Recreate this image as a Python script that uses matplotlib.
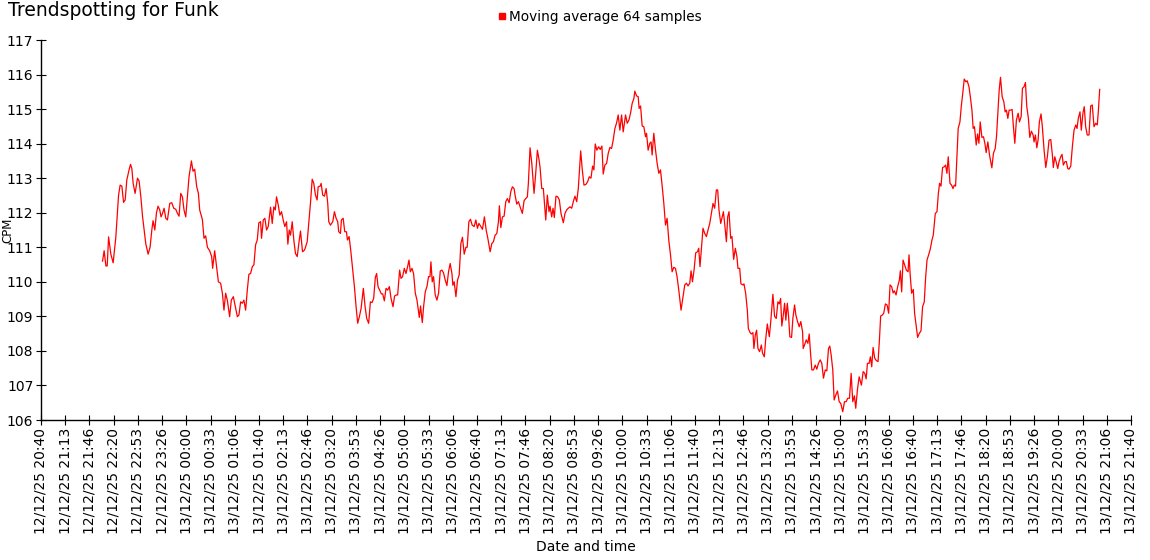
import matplotlib
matplotlib.use("Agg")
import matplotlib.pyplot as plt
import matplotlib.dates as mdates
from matplotlib.lines import Line2D
import pandas as pd
import numpy as np

title = "Trendspotting for Funk"
series_name = "Moving average 64 samples"
x_label = "Date and time"
y_label = "CPM"
start = pd.Timestamp("2025-12-12 20:40")
end = pd.Timestamp("2025-12-13 21:40")

# minutes since 12/12/25 20:40
minutes = [
 84.7, 86.9, 89.3, 91.1, 93.0, 96.1, 99.3, 103.0, 106.7, 108.9, 111.3, 113.6, 115.8, 118.1, 121.3, 123.2,
 125.0, 126.8, 129.5, 132.8, 135.0, 137.4, 139.7, 141.9, 144.2, 147.4, 150.1, 152.5, 154.2, 156.6, 158.9,
 161.1, 163.4, 165.2, 167.2, 169.4, 171.7, 174.0, 177.2, 179.9, 182.7, 185.4, 187.8, 190.0, 192.3, 194.6,
 196.8, 199.2, 201.5, 203.7, 207.0, 209.2, 211.5, 214.3, 216.6, 218.4,
 222.1, 224.3, 226.6, 229.0, 232.1, 234.9, 236.2, 239.0, 241.3, 244.1, 247.2, 249.6, 251.8, 254.1, 256.4,
 259.6, 261.9, 264.7, 267.4, 270.2, 272.4, 274.7, 277.0, 279.2, 281.6, 283.9, 286.1, 288.4, 290.8, 293.0,
 295.3, 297.6, 299.8, 302.2, 303.5, 305.9, 308.1, 310.4, 312.7, 315.9, 318.2, 320.4, 322.4, 324.1, 326.5,
 328.7, 331.0, 333.3, 335.5, 337.9, 339.7, 341.6, 343.4, 345.7, 347.9, 350.2, 352.6, 354.8, 357.1, 359.9, 362.6,
 364.0, 366.3, 368.5, 370.8, 373.2, 375.4, 377.7, 380.0, 381.4, 384.2, 385.5, 387.7, 390.1, 392.4, 394.6,
 396.0, 398.3, 401.5, 403.8, 406.1, 408.3, 409.7, 412.1, 413.4, 415.8, 418.0, 420.3, 421.7, 424.0, 426.2,
 428.5, 431.3, 433.6, 435.8, 438.1, 440.5, 443.6, 446.0, 448.2, 450.9, 453.3, 455.6, 457.8, 460.1, 461.9,
 463.8, 466.0, 468.4, 470.2, 472.5, 474.8, 477.0, 479.4, 481.7, 484.4, 486.6, 489.0, 490.8, 493.5, 495.4,
 497.6, 500.0, 502.3, 504.5, 506.4,
 508.2, 510.5, 512.7, 515.1, 517.4, 520.6, 522.3, 524.7, 526.5, 528.8, 531.1, 533.3, 535.3, 536.6, 538.4,
 540.2, 542.5, 544.9, 547.1, 549.4, 551.7, 553.9, 556.3, 558.6, 560.8, 563.1, 565.5, 566.8, 568.6, 571.0,
 573.2, 575.5, 577.8, 580.0, 582.4, 584.7, 586.5, 588.8, 591.0, 593.4, 596.1, 598.4, 600.6, 602.6, 604.8,
 607.5, 610.2, 612.6, 614.9, 618.1, 620.4, 622.6, 624.9, 627.3, 629.5, 630.8, 632.8, 635.0, 637.3, 639.6,
 641.8, 644.2, 646.5, 648.7, 651.0,
 652.4, 654.7, 657.0, 659.3, 662.4, 664.8, 667.1, 669.3, 670.7, 673.0, 675.4, 678.5, 680.8, 683.1, 685.4,
 686.8, 689.1, 691.3, 694.6, 696.8, 699.1, 700.5, 702.8, 704.6, 706.4, 708.7, 711.1, 713.3, 715.6, 718.8,
 721.1, 723.4, 725.6, 728.0, 730.3, 732.5, 734.8, 737.2, 739.4, 742.7, 744.9, 747.2, 749.9, 752.3, 754.5,
 756.8, 759.1, 760.9, 762.7, 765.0, 767.4, 769.6, 771.9, 773.7, 776.0, 778.4, 780.6, 782.9, 785.2, 787.4,
 789.8, 792.1, 794.3,
 796.6, 799.0, 801.2, 804.4, 806.7, 809.0, 811.3, 813.5, 815.9, 817.2, 819.6, 821.8, 823.1, 825.1, 827.3,
 829.6, 831.9, 833.3, 835.5, 837.8, 839.6, 841.0, 843.3, 845.7, 847.9, 850.2, 852.5, 854.7, 857.1, 859.4,
 861.6, 863.9, 866.3, 868.5, 870.8, 873.1, 875.3, 877.7, 880.8, 883.6, 885.9, 888.2, 890.4, 892.8, 894.6,
 896.5, 898.7, 901.0, 903.4, 905.1, 906.9, 909.3, 911.0, 913.4, 915.7, 917.9, 920.3, 922.6, 924.8, 927.1,
 929.4, 931.2, 933.0, 935.4, 937.1, 939.1,
 940.8, 943.2, 945.0, 946.8, 949.1, 950.9, 953.2, 955.5, 957.7, 959.1, 961.5, 963.2, 966.0, 967.4, 969.7,
 972.0, 973.4, 975.6, 977.5, 979.7, 981.1, 983.0, 984.8, 986.6, 988.9, 991.3, 993.0, 995.4, 997.2, 999.5,
 1002.3, 1004.4, 1007.2, 1009.5, 1011.8, 1014.1, 1016.0, 1017.8, 1019.5, 1021.5, 1023.3, 1025.0, 1027.0,
 1028.8, 1030.5, 1032.9, 1034.7, 1037.0, 1038.8, 1041.1, 1043.4, 1045.6, 1048.0, 1048.9, 1050.7, 1053.1,
 1055.3, 1057.2, 1059.0, 1060.8, 1063.1, 1065.4, 1067.6, 1069.9, 1072.3, 1074.5, 1076.8, 1079.2, 1081.4, 1083.7,
 1085.5, 1087.4, 1089.6, 1091.5, 1093.7, 1096.1, 1098.4, 1100.6, 1103.3, 1105.7, 1108.0, 1110.2, 1112.6,
 1114.9, 1117.1, 1119.4, 1121.2, 1123.5, 1125.9, 1129.0, 1131.4, 1133.6, 1135.5, 1137.3, 1139.6, 1141.4,
 1143.2, 1145.1, 1147.3, 1149.6, 1151.9, 1153.8, 1155.5, 1157.9, 1159.7, 1162.0, 1164.3, 1166.5, 1168.4,
 1170.6, 1172.6, 1174.3, 1176.7, 1178.9, 1181.2, 1182.6, 1184.4, 1186.3, 1188.5, 1190.8, 1193.2, 1194.5,
 1196.3, 1198.1, 1200.4, 1202.2, 1204.2, 1206.4, 1208.7, 1211.0, 1213.2, 1215.5, 1217.3, 1219.3, 1221.5,
 1223.8, 1226.1, 1227.9,
 1230.7, 1233.0, 1234.9, 1236.6, 1238.5, 1240.7, 1243.1, 1244.8, 1246.7, 1248.5, 1250.9, 1253.1, 1255.0,
 1256.8, 1258.6, 1260.5, 1262.2, 1264.6, 1266.4, 1268.7, 1270.5, 1272.8, 1274.6, 1277.0, 1279.2, 1281.1,
 1282.8, 1284.6, 1287.0, 1288.8, 1290.7, 1292.5, 1294.8, 1297.0, 1298.9, 1300.7, 1303.0, 1305.3, 1308.5,
 1310.7, 1313.1, 1314.9, 1316.8, 1318.6, 1320.4, 1322.7, 1325.0, 1326.8, 1328.6, 1330.5, 1332.3, 1334.6,
 1336.4, 1338.2, 1340.1, 1342.3, 1344.7, 1346.5, 1348.8, 1350.6, 1352.9, 1354.7, 1356.6, 1358.8, 1360.7,
 1362.9, 1365.3, 1366.6, 1368.4, 1370.4, 1372.1,
 1373.9, 1376.2, 1378.0, 1380.4, 1382.7, 1384.9, 1387.2, 1389.6, 1391.8, 1393.1, 1395.1, 1396.9, 1399.2,
 1401.0, 1403.3, 1405.1, 1406.9, 1409.2, 1411.0, 1413.0, 1414.7, 1417.1, 1419.3, 1421.6, 1424.0, 1425.7,
 1427.5, 1429.8, 1431.6, 1433.9, 1435.7, 1437.6, 1439.8, 1442.2, 1444.5, 1446.7, 1449.1, 1451.4, 1453.6,
 1455.0, 1456.9,
]

cpm = [
 110.6, 110.9, 110.46, 110.46, 111.3, 110.8, 110.55, 111.3, 112.5, 112.8, 112.77, 112.3, 112.37, 112.95, 113.25, 113.4,
 113.28, 112.85, 112.56, 113.0, 112.92, 112.46, 111.9, 111.5, 111.1, 110.8, 111.0, 111.5, 111.77, 111.5, 112.0,
 112.19, 112.08, 111.88, 111.98, 112.13, 111.84, 111.79, 112.27, 112.29, 112.13, 112.1, 111.98, 111.9, 112.56, 112.46,
 112.08, 111.88, 112.46, 113.04, 113.5, 113.2, 113.26, 112.75, 112.56, 112.08,
 111.8, 111.26, 111.33, 111.0, 110.9, 110.73, 110.39, 110.9, 110.49, 110.0, 109.96, 109.67, 109.18, 109.67, 109.47,
 108.99, 109.47, 109.57, 109.28, 108.99, 109.04, 109.42, 109.38, 109.47, 109.18, 109.76, 110.22, 110.24, 110.44, 110.49,
 111.07, 111.21, 111.71, 111.74, 111.26, 111.79, 111.84, 111.5, 111.6, 112.16, 111.69, 112.17, 112.08, 112.46, 112.22,
 111.93, 112.03, 111.79, 111.6, 111.74, 111.09, 111.5, 111.35, 111.74, 111.21, 110.82, 110.73, 111.11, 111.47, 110.87, 110.92,
 111.0, 111.16, 111.69, 112.27, 112.97, 112.85, 112.51, 112.37, 112.75, 112.77, 112.85, 112.51, 112.48, 112.7, 112.27,
 111.74, 111.64, 111.74, 112.03, 111.84, 111.74, 111.45, 111.4, 111.79, 111.84, 111.45, 111.45, 111.21, 111.31, 110.92,
 110.44, 109.86, 109.28, 108.8, 108.99, 109.23, 109.81, 109.28, 108.94, 108.8, 109.42, 109.4, 109.52, 110.13, 110.24,
 109.86, 109.76, 109.65, 109.65, 109.45, 109.81, 109.76, 109.86, 109.52, 109.28, 109.59, 109.62, 109.62, 110.34, 110.1,
 110.15, 110.39, 110.24, 110.44, 110.63,
 110.29, 110.39, 110.24, 109.67, 109.47, 108.97, 109.3, 108.82, 109.28, 109.71, 109.86, 110.15, 110.15, 110.58, 110.0,
 110.15, 109.62, 109.47, 109.67, 110.31, 110.34, 110.26, 110.05, 109.89, 110.29, 110.53, 110.24, 109.9, 110.0, 109.57,
 110.05, 110.2, 111.11, 111.29, 110.8, 111.0, 111.0, 111.74, 111.81, 111.64, 111.6, 111.79, 111.55, 111.69, 111.62,
 111.52, 111.88, 111.5, 111.26, 110.87, 111.11, 111.16, 111.35, 111.4, 111.74, 112.2, 111.57, 111.88, 111.9, 112.32,
 112.41, 112.29, 112.61, 112.75, 112.7,
 112.51, 112.25, 112.32, 112.17, 111.98, 112.35, 112.41, 112.46, 112.85, 113.88, 113.43, 112.56, 113.14, 113.81, 113.53,
 113.31, 112.7, 112.7, 111.79, 112.51, 112.03, 112.19, 111.88, 112.13, 111.86, 112.48, 112.46, 112.37, 111.98, 111.71,
 111.98, 112.08, 112.13, 112.17, 112.13, 112.32, 112.48, 112.32, 112.7, 113.79, 113.24, 112.8, 112.82, 112.9, 113.04,
 113.0, 113.35, 113.24, 113.99, 113.81, 113.91, 113.83, 113.93, 113.12, 113.38, 113.43, 113.72, 113.89, 113.86, 114.1,
 114.44, 114.6, 114.83,
 114.39, 114.83, 114.34, 114.83, 114.59, 114.68, 114.88, 115.16, 115.31, 115.52, 115.38, 115.36, 115.02, 115.09, 114.51,
 114.49, 114.2, 114.3, 113.81, 114.01, 114.05, 113.67, 114.3, 113.81, 113.43, 113.14, 113.24, 112.8, 112.27, 111.64,
 111.84, 111.21, 110.78, 110.29, 110.42, 110.39, 110.15, 109.76, 109.18, 109.57, 109.91, 109.96, 109.88, 109.96, 110.32,
 110.0, 110.34, 110.84, 110.87, 110.97, 110.44, 111.11, 111.55, 111.4, 111.31, 111.5, 111.69, 111.98, 112.27, 112.13,
 112.66, 112.66, 112.08, 111.69, 111.84, 112.03,
 111.69, 111.16, 111.88, 112.03, 111.26, 111.31, 110.65, 110.97, 110.73, 110.39, 110.39, 109.94, 109.91, 109.94, 109.67,
 109.18, 108.65, 108.54, 108.49, 108.53, 108.07, 108.46, 108.6, 108.07, 107.98, 108.17, 107.93, 107.83, 108.32, 108.78,
 108.41, 108.89, 109.64, 109.0, 108.94, 109.42, 109.36, 109.52, 108.72, 109.04, 109.38, 108.89, 109.38,
 108.99, 108.41, 108.39, 108.94, 109.33, 109.04, 108.85, 108.7, 108.85, 108.56, 108.07, 108.17, 108.32,
 108.22, 108.49, 107.93, 107.45, 107.45, 107.59, 107.47, 107.64, 107.74, 107.64, 107.21, 107.45, 107.42, 108.07,
 108.14, 107.88, 107.45, 106.58, 106.72, 106.84, 106.53, 106.48, 106.24, 106.53, 106.53, 106.63, 106.63,
 107.35, 106.53, 106.7, 106.34, 106.87, 107.25, 107.01, 107.4, 107.35, 107.19, 107.64, 107.64, 107.83,
 107.54, 108.1, 107.79, 107.72, 107.69, 108.32, 109.01, 109.04, 109.09, 109.36, 109.33, 109.09, 109.91,
 109.86, 109.68, 109.74, 109.62, 109.86, 110.05, 110.32, 109.71, 110.63, 110.49, 110.34, 110.29, 110.78,
 110.15, 109.67, 109.78, 109.09, 108.75, 108.39, 108.51, 108.58, 109.28, 109.42, 110.1, 110.63, 110.78,
 110.95, 111.21, 111.35,
 111.98, 112.03, 112.56, 112.85, 112.77, 113.31, 113.33, 113.38, 113.14, 113.62, 112.85, 112.8, 112.7,
 112.8, 112.77, 113.62, 114.44, 114.63, 115.07, 115.5, 115.87, 115.79, 115.82, 115.65, 115.31, 114.97,
 114.44, 114.49, 113.96, 114.28, 114.01, 114.63, 114.18, 114.2, 114.01, 113.74, 114.05, 113.67, 113.3,
 113.72, 113.86, 114.2, 114.88, 115.55, 115.92, 115.36, 115.21, 114.92, 114.97, 114.73, 114.97, 114.97,
 114.99, 114.49, 114.01, 114.68, 114.88, 114.63, 114.78, 115.6, 115.65, 115.77, 115.07, 114.73, 114.18,
 114.36, 114.25, 114.05, 114.25, 113.88, 114.1,
 114.63, 114.86, 114.49, 113.81, 113.31, 113.62, 114.1, 114.12, 113.67, 113.31, 113.62, 113.48, 113.28,
 113.48, 113.62, 113.69, 113.38, 113.48, 113.48, 113.28, 113.26, 113.35, 113.91, 114.39, 114.54, 114.44,
 114.73, 114.92, 114.39, 114.89, 115.07, 114.49, 114.25, 114.25, 115.09, 115.12, 114.49, 114.59, 114.54,
 114.92, 115.57,
]

y_min, y_max = 106, 117
tick_step_seconds = 2000

times = start + pd.to_timedelta(minutes, unit="min")

W, H = 1150, 560
fig = plt.figure(figsize=(W / 100, H / 100), dpi=100)
fig.patch.set_facecolor("white")
ax = fig.add_axes([41 / W, 1 - 420 / H, (1131 - 41) / W, (420 - 40) / H])

ax.plot(times, cpm, color="#ff0000", linewidth=0.9)

ax.set_xlim(start, end)
ax.set_ylim(y_min, y_max)
ax.set_yticks(range(y_min, y_max + 1))

xticks = pd.date_range(start, end, freq=f"{tick_step_seconds}s")
ax.set_xticks(xticks)
ax.xaxis.set_major_formatter(mdates.DateFormatter("%d/%m/%y %H:%M"))
for lab in ax.get_xticklabels():
    lab.set_rotation(90)

for s in ("top", "right"):
    ax.spines[s].set_visible(False)
for s in ("left", "bottom"):
    ax.spines[s].set_linewidth(1.0)
    ax.spines[s].set_color("black")

ax.tick_params(axis="both", direction="inout", length=7, width=0.8, labelsize=10, colors="black", pad=2)

ax.set_xlabel(x_label, fontsize=10, labelpad=4)
ax.set_ylabel(y_label, fontsize=8.5)
ax.yaxis.set_label_coords(-0.0245, 0.5)

fig.text(8 / W, 1 - 10 / H, title, fontsize=13.5, ha="left", va="center")

handle = Line2D([], [], color="#ff0000", marker="s", linestyle="none", markersize=5)
fig.legend([handle], [series_name], loc="center", bbox_to_anchor=(600 / W, 1 - 17 / H),
           frameon=False, fontsize=9.8, handlelength=0.6, handletextpad=0.2, borderpad=0)

fig.savefig("out.png", dpi=100, facecolor="white")
